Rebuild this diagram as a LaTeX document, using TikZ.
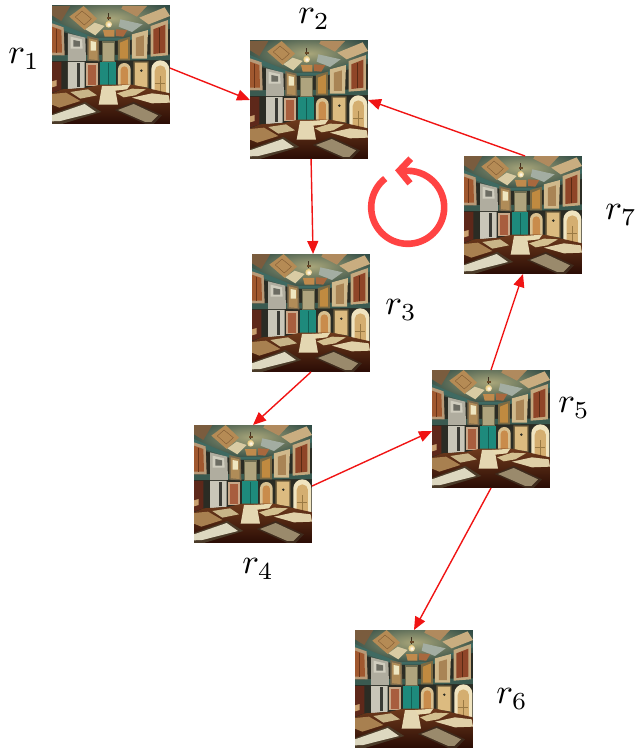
\documentclass[tikz,border=0pt]{standalone}
\usetikzlibrary{arrows.meta}
\definecolor{arrowred}{HTML}{F01414}
\definecolor{cyclered}{HTML}{FF4343}
\newcommand{\hx}[2]{\definecolor{tmpc}{HTML}{#1}\fill[tmpc] #2 -- cycle;}
\newcommand{\lb}[2]{\definecolor{tmpl}{HTML}{#1}\draw[tmpl,line width=.35pt] #2;}
\definecolor{ceilin}{HTML}{A9A67A}
\definecolor{ceilout}{HTML}{2E4A44}
\definecolor{floortop}{HTML}{6E3A1C}
\definecolor{floorbot}{HTML}{2A0C05}
\definecolor{darkwall}{HTML}{2B2C24}
\definecolor{lampglow}{HTML}{E8C878}
\tikzset{
  roombox/.style={rectangle,minimum width=#1,minimum height=#1,inner sep=0pt,outer sep=0pt},
  roomlabel/.style={inner sep=0pt,scale=3.5},
  link/.style={draw=arrowred,line width=1.4pt,-{Triangle[length=13pt,width=11pt]}},
  cyclestroke/.style={draw=cyclered,line width=6.6pt},
  pics/room/.style={code={
    \begin{scope}[shift={(-59,59)},scale=0.3333]
    \clip (0,0) rectangle (354,-354);
    \fill[darkwall] (0,0) rectangle (354,-354);
    % ceiling
    \shade[inner color=ceilin,outer color=ceilout] (-30,30) -- (384,30) -- (384,-60) -- (230,-104) -- (125,-104) -- (-30,-60) -- cycle;
    \hx{3F6A62}{(0,-42) -- (60,-68) -- (130,-96) -- (225,-96) -- (300,-66) -- (354,-38) -- (354,-52) -- (296,-72) -- (230,-104) -- (125,-104) -- (48,-78) -- (0,-58)}
    \hx{7A5C3E}{(0,0) -- (55,0) -- (28,-45) -- (0,-28)}
    \hx{B58B55}{(95,0) -- (135,-38) -- (98,-72) -- (52,-32)}
    \lb{7A5630}{(90,-15) -- (118,-38) -- (97,-57) -- (70,-33) -- cycle}
    \hx{D9CBA3}{(128,-50) -- (158,-60) -- (130,-88) -- (100,-70)}
    \hx{B08A5E}{(212,0) -- (285,0) -- (255,-32) -- (208,-8)}
    \hx{C9AD80}{(338,-4) -- (354,-30) -- (290,-55) -- (262,-35)}
    \hx{A3ADA2}{(205,-40) -- (272,-55) -- (240,-78) -- (200,-62)}
    \hx{C08A4C}{(153,-72) -- (187,-72) -- (187,-92) -- (158,-92)}
    \hx{A8683E}{(192,-70) -- (226,-72) -- (214,-92) -- (192,-90)}
    \lb{403020}{(170,-22) -- (170,-42)}
    \hx{6A4A28}{(164,-32) -- (176,-32) -- (176,-40) -- (164,-40)}
    \shade[inner color=white,outer color=lampglow] (170,-55) circle (10);
    % band between rows
    \hx{3A5A50}{(0,-148) -- (354,-145) -- (354,-162) -- (0,-165)}
    % upper doors
    \hx{B89A78}{(0,-52) -- (35,-64) -- (38,-148) -- (0,-148)}
    \hx{A0582F}{(0,-62) -- (28,-72) -- (30,-140) -- (0,-140)}
    \lb{6A3418}{(14,-68) -- (14,-140)}
    \hx{B0AD9F}{(48,-82) -- (100,-95) -- (102,-165) -- (48,-165)}
    \hx{D0CDBE}{(56,-92) -- (90,-100) -- (92,-128) -- (56,-128)}
    \hx{6C6C62}{(64,-102) -- (84,-106) -- (84,-122) -- (64,-122)}
    \hx{7C6A4C}{(106,-90) -- (140,-98) -- (142,-166) -- (106,-164)}
    \hx{B08C58}{(111,-97) -- (136,-103) -- (137,-162) -- (111,-160)}
    \hx{EFE6C0}{(116,-105) -- (132,-108) -- (132,-134) -- (116,-134)}
    \hx{6E6C50}{(150,-104) -- (190,-104) -- (190,-168) -- (150,-168)}
    \hx{AFA47E}{(154,-110) -- (186,-110) -- (186,-164) -- (154,-164)}
    \hx{7A6A44}{(198,-102) -- (234,-92) -- (234,-163) -- (198,-163)}
    \hx{C08A40}{(204,-110) -- (228,-100) -- (228,-158) -- (204,-158)}
    \hx{D0B98C}{(240,-85) -- (288,-72) -- (285,-158) -- (240,-158)}
    \hx{A98455}{(252,-95) -- (276,-88) -- (276,-150) -- (252,-150)}
    \hx{C4A87E}{(296,-60) -- (348,-42) -- (348,-148) -- (296,-152)}
    \hx{8F4528}{(304,-70) -- (340,-56) -- (340,-140) -- (304,-144)}
    \lb{5A2A14}{(322,-66) -- (322,-142)}
    % lower doors
    \hx{5E281A}{(0,-168) -- (28,-168) -- (28,-250) -- (0,-260)}
    \hx{C9A070}{(0,-226) -- (14,-222) -- (14,-240) -- (0,-244)}
    \hx{C9C6B8}{(48,-168) -- (98,-168) -- (98,-245) -- (48,-250)}
    \hx{3A3A34}{(74,-172) -- (84,-172) -- (84,-244) -- (74,-244)}
    \hx{C9A889}{(102,-170) -- (138,-170) -- (138,-240) -- (102,-240)}
    \hx{A85E3E}{(108,-176) -- (132,-176) -- (132,-238) -- (108,-238)}
    \hx{1E8A7C}{(145,-168) -- (192,-168) -- (192,-238) -- (145,-238)}
    \lb{125E54}{(168,-170) -- (168,-238)}
    \definecolor{archa}{HTML}{D8C090}\definecolor{archb}{HTML}{C98C4C}
    \definecolor{archc}{HTML}{F0E4C0}\definecolor{archd}{HTML}{D4AE70}
    \fill[archa] (198,-238) -- (198,-190) arc (180:0:19) -- (236,-238) -- cycle;
    \fill[archb] (206,-238) -- (206,-192) arc (180:0:11) -- (228,-238) -- cycle;
    \hx{6A5A3A}{(244,-166) -- (290,-166) -- (290,-246) -- (244,-240)}
    \hx{DCBB80}{(249,-170) -- (286,-170) -- (286,-244) -- (249,-238)}
    \fill[darkwall] (268,-194) circle (4);
    \fill[archc] (298,-258) -- (298,-190) arc (180:0:27) -- (352,-265) -- cycle;
    \fill[archd] (308,-258) -- (308,-195) arc (180:0:17) -- (342,-262) -- cycle;
    \lb{9A7A44}{(325,-210) -- (325,-258) (310,-232) -- (340,-232)}
    % floor
    \shade[top color=floortop,bottom color=floorbot] (0,-262) -- (30,-250) -- (100,-246) -- (145,-236) -- (240,-236) -- (354,-262) -- (354,-354) -- (0,-354) -- cycle;
    \hx{E4D7B2}{(150,-240) -- (188,-240) -- (198,-296) -- (140,-296)}
    \hx{E8DAB0}{(180,-240) -- (235,-236) -- (225,-250) -- (190,-254)}
    \hx{C8B488}{(55,-258) -- (108,-250) -- (135,-268) -- (85,-278)}
    \hx{A88050}{(0,-264) -- (42,-260) -- (85,-285) -- (22,-305) -- (0,-296)}
    \hx{4A3A28}{(0,-324) -- (100,-288) -- (148,-318) -- (30,-354) -- (0,-354)}
    \hx{DDD8C0}{(0,-328) -- (98,-294) -- (132,-318) -- (25,-345) -- (0,-346)}
    \hx{3E2A1C}{(188,-312) -- (245,-288) -- (330,-328) -- (305,-354) -- (280,-354)}
    \hx{9A8A6C}{(198,-312) -- (245,-294) -- (318,-328) -- (298,-348) -- (280,-348)}
    \hx{E0D0A8}{(240,-275) -- (300,-262) -- (350,-268) -- (354,-290) -- (300,-292)}
    \hx{D4C090}{(195,-262) -- (240,-248) -- (282,-250) -- (250,-268) -- (215,-274)}
    \end{scope}
  }}
}
\begin{document}
\begin{tikzpicture}[x=1pt,y=1pt]
\useasboundingbox (0,0) rectangle (638,-749);
\node[roombox=118pt] (r1) at (111,-65) {};
\node[roombox=118pt] (r2) at (309,-100) {};
\node[roombox=118pt] (r3) at (311,-313) {};
\node[roombox=118pt] (r4) at (253,-484) {};
\node[roombox=118pt] (r5) at (491,-429) {};
\node[roombox=118pt] (r6) at (414,-689) {};
\node[roombox=118pt] (r7) at (523,-215) {};
\foreach \r in {r1,r2,r3,r4,r5,r6,r7} \pic at (\r) {room};

\draw[link] (r1.-3) -- (r2.west);
\draw[link] (r2.-88) -- (r3.88);
\draw[link] (r3.south) -- (r4.north);
\draw[link] (r4.-2) -- (r5.182);
\draw[link] (r5.south) -- (r6.north);
\draw[link] (r5.north) -- (r7.south);
\draw[link] (r7.88) -- (r2.east);

\node[roomlabel] (l1) at (24,-59) {$r_1$};
\node[roomlabel] (l2) at (314,-19) {$r_2$};
\node[roomlabel] (l3) at (401,-310) {$r_3$};
\node[roomlabel] (l4) at (258,-569) {$r_4$};
\node[roomlabel] (l5) at (574,-408) {$r_5$};
\node[roomlabel] (l6) at (512,-699) {$r_6$};
\node[roomlabel] (l7) at (621,-215) {$r_7$};

\coordinate (cyc) at (407.7,-207.3);
\draw[cyclestroke] (cyc) ++(128:36.5) arc (128:450:36.5) -- ++(-8,0);
\draw[cyclestroke] (410.7,-158.7) -- (399.5,-170.5) -- (410,-183.3);
\end{tikzpicture}
\end{document}
